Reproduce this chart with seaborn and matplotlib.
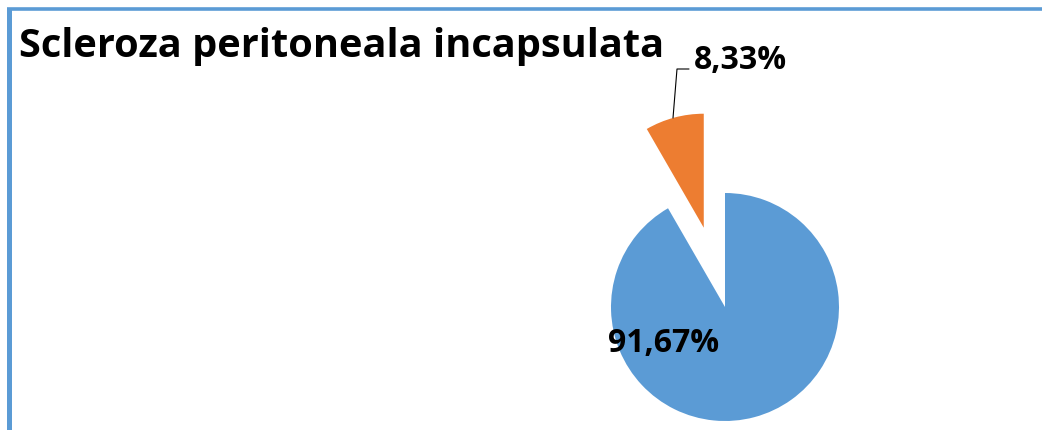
import numpy as np
import matplotlib
matplotlib.use("Agg")
import matplotlib.pyplot as plt
import seaborn as sns
from matplotlib.lines import Line2D

# datos
categorias = ["Sin scleroza", "Scleroza peritoneala incapsulata"]
procentaje = [91.67, 8.33]
etichete = ["91,67%", "8,33%"]
culori = ["#5B9BD5", "#ED7D31"]
titlu = "Scleroza peritoneala incapsulata"

sns.set_theme(style="white")
plt.rcParams["font.family"] = ["Open Sans", "DejaVu Sans"]

W, H = 1042, 430
fig = plt.figure(figsize=(W / 100, H / 100), dpi=100)
fig.patch.set_facecolor("white")

# eje que cubre toda la figura; 1 unidad = radio del pie (114 px)
r_px = 114
cx, cy = 725, 307  # centro del pie en px (desde arriba)
ax = fig.add_axes([0, 0, 1, 1])
ax.pie(procentaje, colors=culori, startangle=90, counterclock=False,
       explode=[0, 0.72], radius=1, wedgeprops=dict(linewidth=0))
ax.set_xlim(-cx / r_px, (W - cx) / r_px)
ax.set_ylim(-(H - cy) / r_px, cy / r_px)
ax.set_aspect("equal")
ax.axis("off")

def px(x, y):
    return ((x - cx) / r_px, (cy - y) / r_px)

# etiquetas
ax.text(*px(608, 352), etichete[0], fontsize=23, fontweight="bold",
        ha="left", va="baseline", color="black")
ax.text(*px(694, 69), etichete[1], fontsize=23, fontweight="bold",
        ha="left", va="baseline", color="black")
lx, ly = zip(px(673, 118), px(677, 69), px(689, 69))
ax.plot(lx, ly, color="black", lw=0.8)

# titulo
fig.text(19 / W, 1 - 57 / H, titlu, fontsize=28.6, fontweight="bold",
         ha="left", va="baseline", color="black")

# borde del grafico
borde = "#5B9BD5"
fig.add_artist(Line2D([8.5 / W, 8.5 / W], [0, 1 - 8 / H], transform=fig.transFigure,
                      color=borde, lw=3.6, solid_capstyle="butt"))
fig.add_artist(Line2D([6.5 / W, 1], [1 - 8.5 / H, 1 - 8.5 / H], transform=fig.transFigure,
                      color=borde, lw=2.6, solid_capstyle="butt"))

fig.savefig("out.png", dpi=100, facecolor="white")
